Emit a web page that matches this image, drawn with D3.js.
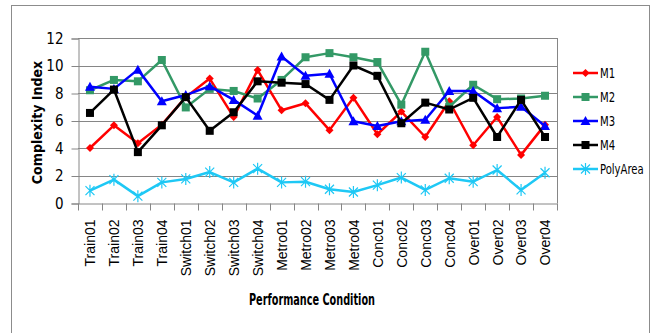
<!DOCTYPE html>
<html>
<head>
<meta charset="utf-8">
<script src="https://cdn.jsdelivr.net/npm/d3@7"></script>
<style>
  html, body { margin: 0; padding: 0; background: #fff; }
  svg { display: block; }
  .narrow { font-family: "DejaVu Sans Condensed", "Liberation Sans Narrow", Arial, sans-serif; }
</style>
</head>
<body>
<div id="chart"></div>
<script>
// categories and series
const conditions = ['Train01', 'Train02', 'Train03', 'Train04', 'Switch01', 'Switch02', 'Switch03', 'Switch04',
  'Metro01', 'Metro02', 'Metro03', 'Metro04', 'Conc01', 'Conc02', 'Conc03', 'Conc04',
  'Over01', 'Over02', 'Over03', 'Over04'];

const m1 = [4.0, 5.65, 4.35, 5.7, 7.7, 9.05, 6.25, 9.67, 6.75, 7.25, 5.3, 7.65, 5.0, 6.65, 4.8, 7.4, 4.2, 6.25, 3.5, 5.7];
const m2 = [8.2, 8.95, 8.85, 10.4, 6.95, 8.3, 8.15, 7.6, 8.95, 10.6, 10.9, 10.6, 10.25, 7.15, 11.0, 7.0, 8.6, 7.55, 7.6, 7.8];
const m3 = [8.45, 8.3, 9.7, 7.4, 7.85, 8.5, 7.5, 6.35, 10.65, 9.25, 9.4, 5.95, 5.6, 5.95, 6.05, 8.15, 8.15, 6.9, 7.0, 5.6];
const m4 = [6.55, 8.25, 3.7, 5.65, 7.7, 5.25, 6.6, 8.85, 8.75, 8.65, 7.5, 10.0, 9.25, 5.8, 7.3, 6.8, 7.65, 4.8, 7.5, 4.8];
const polyArea = [0.9, 1.7, 0.5, 1.5, 1.75, 2.25, 1.5, 2.5, 1.5, 1.55, 1.0, 0.8, 1.3, 1.85, 0.95, 1.8, 1.55, 2.4, 0.95, 2.2];

const yTicks = [0, 2, 4, 6, 8, 10, 12];

const seriesList = [
  { name: 'M1', values: m1, color: '#ff0000', marker: 'diamond' },
  { name: 'M2', values: m2, color: '#339966', marker: 'square' },
  { name: 'M3', values: m3, color: '#0000ff', marker: 'triangle' },
  { name: 'M4', values: m4, color: '#000000', marker: 'square' },
  { name: 'PolyArea', values: polyArea, color: '#1ec8f5', marker: 'asterisk' }
];

const width = 652, height = 333;
const plot = { left: 78, right: 557, top: 38, bottom: 203 };

const svg = d3.select('#chart').append('svg')
  .attr('width', width)
  .attr('height', height);

// outer chart frame
svg.append('rect')
  .attr('x', 11.5).attr('y', 5.5)
  .attr('width', 638).attr('height', 340)
  .attr('fill', '#fff')
  .attr('stroke', '#8c8c8c')
  .attr('stroke-width', 1);

const x = d3.scaleBand()
  .domain(conditions)
  .range([plot.left, plot.right]);

const y = d3.scaleLinear()
  .domain([0, 12])
  .range([plot.bottom, plot.top]);

// gridlines
svg.append('g')
  .selectAll('line')
  .data(yTicks.filter(d => d > 0))
  .enter()
  .append('line')
  .attr('x1', plot.left).attr('x2', plot.right)
  .attr('y1', d => Math.round(y(d)) + 0.5).attr('y2', d => Math.round(y(d)) + 0.5)
  .attr('stroke', '#868686')
  .attr('stroke-width', 1);

// plot area right border
svg.append('line')
  .attr('x1', plot.right + 0.5).attr('x2', plot.right + 0.5)
  .attr('y1', plot.top).attr('y2', plot.bottom)
  .attr('stroke', '#868686');

// y axis
const yAxis = svg.append('g')
  .attr('transform', `translate(${plot.left + 0.5},0.5)`)
  .call(d3.axisLeft(y).tickValues(yTicks).tickSize(7).tickPadding(8).tickFormat(d3.format('d')));
yAxis.select('.domain').attr('stroke', '#868686');
yAxis.selectAll('.tick line').attr('stroke', '#868686');
yAxis.selectAll('text')
  .attr('class', 'narrow')
  .attr('font-size', '15px')
  .attr('fill', '#000');

// x axis, ticks at category boundaries
const xAxis = svg.append('g')
  .attr('transform', `translate(0.5,${plot.bottom + 0.5})`)
  .call(d3.axisBottom(x).tickSize(0).tickPadding(0));
xAxis.select('.domain').attr('stroke', '#868686');
xAxis.append('g')
  .selectAll('line')
  .data(conditions.concat(['']))
  .enter()
  .append('line')
  .attr('x1', (d, i) => Math.round(plot.left + i * x.bandwidth()))
  .attr('x2', (d, i) => Math.round(plot.left + i * x.bandwidth()))
  .attr('y1', 0).attr('y2', 7)
  .attr('stroke', '#868686');
xAxis.selectAll('.tick text')
  .attr('font-family', 'Arial, "Liberation Sans", sans-serif')
  .attr('font-size', '14px')
  .attr('fill', '#000')
  .attr('text-anchor', 'end')
  .attr('dy', '0.35em')
  .attr('transform', 'translate(0,16) rotate(-90)')
  .attr('x', 0).attr('y', 0);

// axis titles
svg.append('text')
  .attr('class', 'narrow')
  .attr('transform', `translate(42,${(plot.top + plot.bottom) / 2 + 2}) rotate(-90)`)
  .attr('text-anchor', 'middle')
  .attr('font-size', '14px')
  .attr('font-weight', 'bold')
  .text('Complexity Index');

svg.append('text')
  .attr('class', 'narrow')
  .attr('x', 312)
  .attr('y', 305)
  .attr('text-anchor', 'middle')
  .attr('font-size', '16px')
  .attr('font-weight', 'bold')
  .attr('textLength', 126)
  .attr('lengthAdjust', 'spacingAndGlyphs')
  .text('Performance Condition');

function drawMarker(g, type, color) {
  if (type === 'diamond') {
    g.append('path').attr('d', 'M0,-4L4,0L0,4L-4,0Z').attr('fill', color);
  } else if (type === 'square') {
    g.append('rect').attr('x', -4).attr('y', -4).attr('width', 8).attr('height', 8).attr('fill', color);
  } else if (type === 'triangle') {
    g.append('path').attr('d', 'M0,-5L5,4L-5,4Z').attr('fill', color);
  } else if (type === 'asterisk') {
    g.append('path')
      .attr('d', 'M-4.5,-4.5L4.5,4.5M-4.5,4.5L4.5,-4.5M0,-6L0,6')
      .attr('stroke', color).attr('stroke-width', 1.2).attr('fill', 'none');
  }
}

const line = d3.line()
  .x((d, i) => x(conditions[i]) + x.bandwidth() / 2)
  .y(d => y(d));

seriesList.forEach(s => {
  const g = svg.append('g');
  g.append('path')
    .datum(s.values)
    .attr('d', line)
    .attr('fill', 'none')
    .attr('stroke', s.color)
    .attr('stroke-width', 2.5)
    .attr('stroke-linejoin', 'round');
  s.values.forEach((v, i) => {
    const mg = g.append('g')
      .attr('transform', `translate(${x(conditions[i]) + x.bandwidth() / 2},${y(v)})`);
    drawMarker(mg, s.marker, s.color);
  });
});

// legend
const legend = svg.append('g').attr('transform', 'translate(573,73)');
seriesList.forEach((s, i) => {
  const lg = legend.append('g').attr('transform', `translate(0,${i * 24})`);
  lg.append('line')
    .attr('x1', 0).attr('x2', 25)
    .attr('stroke', s.color).attr('stroke-width', 2.5);
  const mg = lg.append('g').attr('transform', 'translate(12.5,0)');
  drawMarker(mg, s.marker, s.color);
  lg.append('g')
    .attr('transform', 'translate(27,0) scale(0.8,1)')
    .append('text')
    .attr('class', 'narrow')
    .attr('dy', '0.35em')
    .attr('font-size', '14px')
    .attr('fill', '#000')
    .text(s.name);
});
</script>
</body>
</html>
